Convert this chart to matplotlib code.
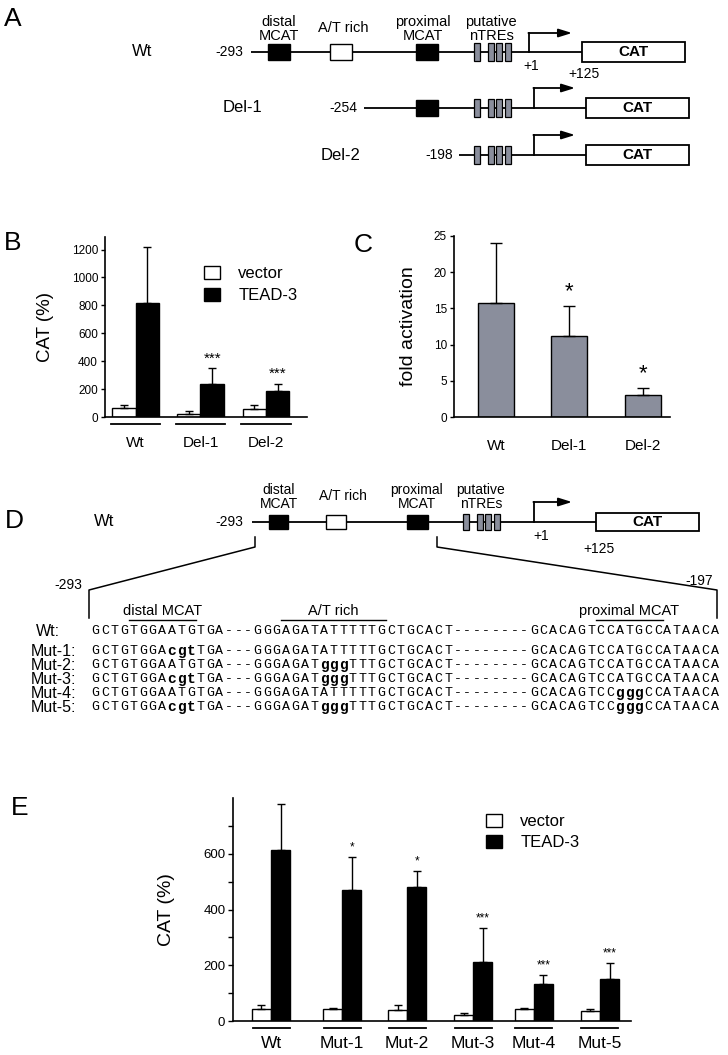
import matplotlib
matplotlib.use('Agg')
import matplotlib.pyplot as plt
from matplotlib.patches import Rectangle
from matplotlib.lines import Line2D

W, H = 728, 1055
plt.rcParams['font.family'] = ['Liberation Sans', 'DejaVu Sans']
NARROW = ['Liberation Sans Narrow', 'Liberation Sans', 'DejaVu Sans']
MONO = ['Liberation Mono', 'DejaVu Sans Mono']

# ---------------- data ----------------
b_groups = ['Wt', 'Del-1', 'Del-2']
b_vector = [62, 24, 60]
b_vector_err = [25, 19, 24]
b_tead = [815, 240, 185]
b_tead_err = [400, 108, 55]
b_sig = ['', '***', '***']

c_groups = ['Wt', 'Del-1', 'Del-2']
c_fold = [15.8, 11.2, 3.1]
c_fold_err = [8.2, 4.1, 0.9]
c_sig = ['', '*', '*']

e_groups = ['Wt', 'Mut-1', 'Mut-2', 'Mut-3', 'Mut-4', 'Mut-5']
e_vector = [42, 43, 39, 21, 42, 37]
e_vector_err = [17, 5, 18, 9, 3, 6]
e_tead = [615, 469, 481, 210, 131, 151]
e_tead_err = [163, 120, 57, 124, 35, 58]
e_sig = ['', '*', '*', '***', '***', '***']

seq_names = ['Wt:', 'Mut-1:', 'Mut-2:', 'Mut-3:', 'Mut-4:', 'Mut-5:']
seq_rows = [
    'GCTGTGGAATGTGA---GGGAGATATTTTTGCTGCACT--------GCACAGTCCATGCCATAACA',
    'GCTGTGGAcgtTGA---GGGAGATATTTTTGCTGCACT--------GCACAGTCCATGCCATAACA',
    'GCTGTGGAATGTGA---GGGAGATgggTTTGCTGCACT--------GCACAGTCCATGCCATAACA',
    'GCTGTGGAcgtTGA---GGGAGATgggTTTGCTGCACT--------GCACAGTCCATGCCATAACA',
    'GCTGTGGAATGTGA---GGGAGATATTTTTGCTGCACT--------GCACAGTCCgggCCATAACA',
    'GCTGTGGAcgtTGA---GGGAGATgggTTTGCTGCACT--------GCACAGTCCgggCCATAACA',
]
seq_headers = [('distal MCAT', 4, 10), ('A/T rich', 20, 30), ('proximal MCAT', 53, 59)]

# ---------------- layout helpers ----------------
fig = plt.figure(figsize=(W / 100, H / 100), dpi=100)


def px_axes(x0, y0, x1, y1):
    return fig.add_axes([x0 / W, 1 - y1 / H, (x1 - x0) / W, (y1 - y0) / H])


def style(ax):
    for s in ['top', 'right']:
        ax.spines[s].set_visible(False)
    for s in ['left', 'bottom']:
        ax.spines[s].set_linewidth(1.2)


def underline(ax, centers, half, yfrac):
    for c in centers:
        ax.add_line(Line2D([c - half, c + half], [yfrac, yfrac], color='k', lw=1.3,
                           transform=ax.get_xaxis_transform(), clip_on=False))


def pair_bars(ax, pos, w, vec, vec_err, tead, tead_err, sig, sig_fs, sig_gap):
    xv = [p - w / 2 for p in pos]
    xt = [p + w / 2 for p in pos]
    bv = ax.bar(xv, vec, w, color='white', edgecolor='k', lw=1.0, label='vector', zorder=2)
    bt = ax.bar(xt, tead, w, color='black', edgecolor='k', lw=1.0, label='TEAD-3', zorder=2)
    ax.errorbar(xv, vec, yerr=[[0] * len(vec), vec_err], fmt='none', ecolor='k',
                elinewidth=1.0, capsize=3, capthick=1.0, zorder=3)
    ax.errorbar(xt, tead, yerr=[[0] * len(tead), tead_err], fmt='none', ecolor='k',
                elinewidth=1.0, capsize=3, capthick=1.0, zorder=3)
    for x, t, e, s in zip(xt, tead, tead_err, sig):
        if s:
            ax.text(x, t + e + sig_gap, s, ha='center', va='bottom', fontsize=sig_fs)
    return bv, bt


# ---------------- panel B ----------------
axB = px_axes(105, 237, 307, 417)
style(axB)
b_pos = [0, 1, 2.01]
bvB, btB = pair_bars(axB, b_pos, 0.36, b_vector, b_vector_err, b_tead, b_tead_err,
                     b_sig, 11, 20)
axB.set_xlim(-0.47, 2.64)
axB.set_ylim(0, 1290)
axB.set_yticks(range(0, 1201, 200))
axB.tick_params(axis='y', length=3, width=1, labelsize=8.5, pad=2)
axB.set_xticks(b_pos, b_groups, fontsize=11)
axB.tick_params(axis='x', length=0, pad=14)
underline(axB, b_pos, 0.38, -0.04)
axB.set_ylabel('CAT (%)', fontsize=13.5)
axB.yaxis.set_label_coords(-0.25, 0.5)
axB.legend([bvB, btB], ['vector', 'TEAD-3'], loc='upper left', frameon=False,
           bbox_to_anchor=(204 / W, 1 - 266 / H), bbox_transform=fig.transFigure,
           fontsize=12, handlelength=0.95, handleheight=0.8, handletextpad=1.1,
           labelspacing=0.4, borderpad=0, borderaxespad=0)

# ---------------- panel C ----------------
axC = px_axes(454, 236, 670, 417)
style(axC)
c_pos = [0, 1, 2]
axC.bar(c_pos, c_fold, 0.49, color='#8a8e9c', edgecolor='k', lw=1.0, zorder=2)
axC.errorbar(c_pos, c_fold, yerr=[[0] * 3, c_fold_err], fmt='none', ecolor='k',
             elinewidth=1.0, capsize=4, capthick=1.0, zorder=3)
for x, v, e, s in zip(c_pos, c_fold, c_fold_err, c_sig):
    if s:
        axC.text(x, v + e + 0.5, s, ha='center', va='bottom', fontsize=16)
axC.set_xlim(-0.57, 2.37)
axC.set_ylim(0, 25)
axC.set_yticks(range(0, 26, 5))
axC.tick_params(axis='y', length=3, width=1, labelsize=8.5, pad=2)
axC.set_xticks(c_pos, c_groups, fontsize=11)
axC.tick_params(axis='x', length=0, pad=16)
axC.set_ylabel('fold activation', fontsize=14)
axC.yaxis.set_label_coords(-0.17, 0.5)

# ---------------- panel E ----------------
axE = px_axes(233, 798, 631, 1021)
style(axE)
e_pos = [0, 1.076, 2.06, 3.06, 3.98, 4.98]
bvE, btE = pair_bars(axE, e_pos, 0.29, e_vector, e_vector_err, e_tead, e_tead_err,
                     e_sig, 8.5, 12)
axE.set_xlim(-0.576, 5.45)
axE.set_ylim(0, 800)
axE.set_yticks([0, 200, 400, 600])
axE.set_yticks([100, 300, 500, 700], minor=True)
axE.tick_params(axis='y', which='both', length=3.5, width=1, labelsize=9.5, pad=2)
axE.set_xticks(e_pos, e_groups, fontsize=12.5, family=NARROW)
axE.tick_params(axis='x', length=0, pad=11)
underline(axE, e_pos, 0.28, -0.032)
axE.set_ylabel('CAT (%)', fontsize=14)
axE.yaxis.set_label_coords(-0.145, 0.5)
axE.legend([bvE, btE], ['vector', 'TEAD-3'], loc='upper left', frameon=False,
           bbox_to_anchor=(486 / W, 1 - 814 / H), bbox_transform=fig.transFigure,
           fontsize=12, handlelength=0.95, handleheight=0.8, handletextpad=1.1,
           labelspacing=0.35, borderpad=0, borderaxespad=0)

# ---------------- overlay for diagrams / text ----------------
ov = fig.add_axes([0, 0, 1, 1], zorder=5)
ov.set_xlim(0, W)
ov.set_ylim(H, 0)
ov.axis('off')
ov.patch.set_visible(False)

for lab, (x, y) in zip('ABCDE', [(13, 19), (13, 243), (363, 245), (14, 521), (20, 808)]):
    ov.text(x, y, lab, fontsize=19, ha='center', va='center')


def construct(y, name, name_x, start, start_x, line_x0, boxes, tres, cat_x0, cat_x1,
              arr_x, arr_top, arr_x1, box_h, cat_h, name_fs=12, small_fs=10):
    ov.text(name_x, y, name, fontsize=name_fs, ha='center', va='center', family=NARROW)
    ov.text(start_x, y, start, fontsize=small_fs, ha='center', va='center', family=NARROW)
    ov.plot([line_x0, cat_x0], [y, y], color='k', lw=1.3, solid_capstyle='butt')
    for x0, x1, fc in boxes:
        ov.add_patch(Rectangle((x0, y - box_h / 2), x1 - x0, box_h, fc=fc, ec='k', lw=1.0, zorder=3))
    for x0, x1 in tres:
        ov.add_patch(Rectangle((x0, y - box_h / 2 - 1), x1 - x0, box_h + 2, fc='#8a8e9c',
                               ec='k', lw=0.9, zorder=3))
    ov.add_patch(Rectangle((cat_x0, y - cat_h / 2), cat_x1 - cat_x0, cat_h, fc='white',
                           ec='k', lw=1.3, zorder=3))
    ov.text((cat_x0 + cat_x1) / 2, y, 'CAT', fontsize=11, fontweight='bold', ha='center',
            va='center', zorder=4)
    ov.plot([arr_x, arr_x], [y, arr_top], color='k', lw=1.3)
    ov.annotate('', xy=(arr_x1, arr_top), xytext=(arr_x - 0.6, arr_top),
                arrowprops=dict(arrowstyle='-|>,head_length=0.8,head_width=0.25', lw=1.3,
                                color='k', shrinkA=0, shrinkB=0))


def tre_set(x):
    return [(x, x + 6), (x + 14, x + 20), (x + 22, x + 28), (x + 31, x + 37)]


def top_labels(y, xs, fs):
    for (txt, x) in zip(['distal\nMCAT', 'A/T rich', 'proximal\nMCAT', 'putative\nnTREs'], xs):
        ov.text(x, y if '\n' in txt else y - 1, txt, fontsize=fs, ha='center', va='center',
                family=NARROW, linespacing=0.95)


# panel A constructs
top_labels(29, [279, 343, 423, 491], 10.5)
construct(52, 'Wt', 142, '-293', 229, 251,
          [(268, 290, 'black'), (330, 352, 'white'), (416, 438, 'black')],
          tre_set(474), 582, 685, 529, 33, 572, 16, 20)
ov.text(531, 66, '+1', fontsize=10, ha='center', va='center', family=NARROW)
ov.text(584, 74, '+125', fontsize=10, ha='center', va='center', family=NARROW)
construct(108, 'Del-1', 243, '-254', 343, 364,
          [(416, 438, 'black')], tre_set(474), 586, 689, 534, 88, 575, 16, 20)
construct(155, 'Del-2', 341, '-198', 439, 459,
          [], tre_set(474), 586, 689, 534, 135, 575, 16, 20)

# panel D construct
top_labels(497, [279, 343, 417, 481], 10)
construct(522, 'Wt', 104, '-293', 229, 252,
          [(269, 288, 'black'), (326, 346, 'white'), (407, 428, 'black')],
          tre_set(463), 596, 699, 534, 502, 572, 14, 18)
ov.text(541, 536, '+1', fontsize=10, ha='center', va='center', family=NARROW)
ov.text(599, 549, '+125', fontsize=10, ha='center', va='center', family=NARROW)

# zoom brackets
ov.plot([255, 255, 89, 89], [537, 547, 590, 618], color='k', lw=1.1)
ov.plot([437, 437, 717, 717], [537, 547, 590, 618], color='k', lw=1.1)
ov.text(68, 585, '-293', fontsize=10, ha='center', va='center', family=NARROW)
ov.text(713, 581, '-197', fontsize=10, ha='right', va='center', family=NARROW)

# sequences
x_first, pitch = 95.5, 9.53
for txt, c0, c1 in seq_headers:
    xa, xb = x_first + (c0 - 0.5) * pitch, x_first + (c1 + 0.5) * pitch
    ov.text((xa + xb) / 2, 611, txt, fontsize=10.5, ha='center', va='center', family=NARROW)
    ov.plot([xa, xb], [619.5, 619.5], color='k', lw=1.0)

row_y = [631, 651, 665, 679, 693, 707]
for name, seq, y in zip(seq_names, seq_rows, row_y):
    ov.text(31 if name != 'Wt:' else 36, y + 1, name, fontsize=11.5, ha='left', va='center',
            family=NARROW)
    for i, ch in enumerate(seq):
        bold = ch.islower()
        ov.text(x_first + i * pitch, y, ch, fontsize=10.5 if bold else 9.5,
                fontweight='bold' if bold else 'normal', family=MONO,
                ha='center', va='center')

fig.savefig('out.png', dpi=100)
